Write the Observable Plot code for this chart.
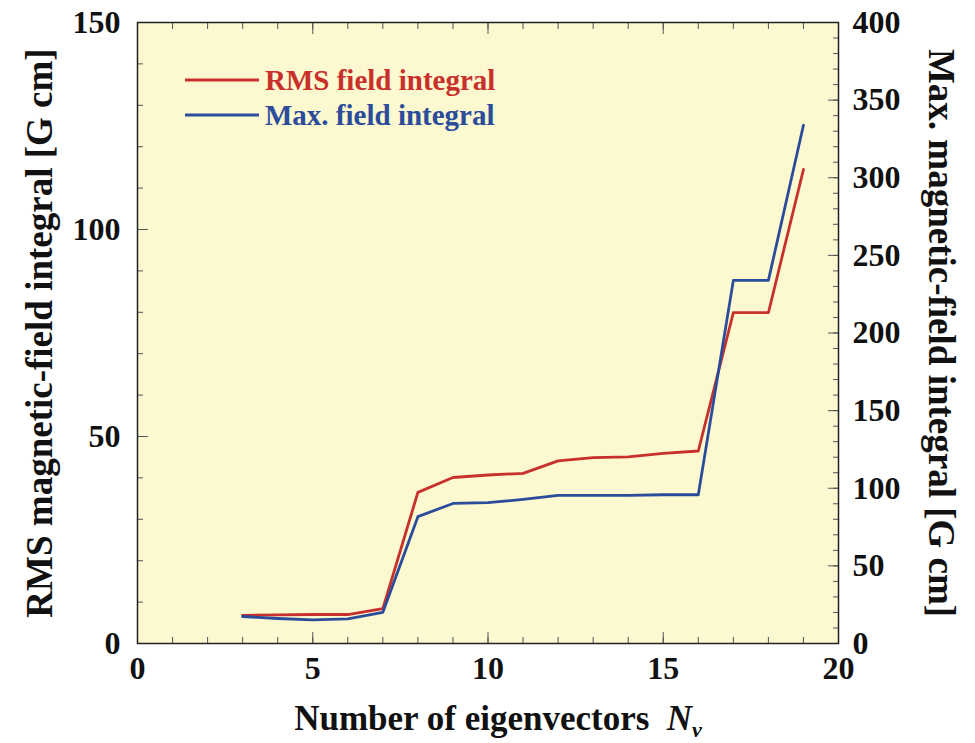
<!DOCTYPE html>
<html><head><meta charset="utf-8">
<script src="https://cdn.jsdelivr.net/npm/d3@7"></script>
<script src="https://cdn.jsdelivr.net/npm/@observablehq/plot@0.6"></script>
<style>
body{margin:0;background:#fff;}
</style></head><body><div id="chart"></div>
<script>
const nv = [3,4,5,6,7,8,9,10,11,12,13,14,15,16,17,18,19];
const rmsField = [6.8,6.9,7.0,7.0,8.4,36.5,40.1,40.7,41.1,44.1,44.9,45.1,45.9,46.5,79.9,79.9,114.5];
const maxField = [17.4,16.1,15.2,15.9,20.1,81.7,90.2,90.7,92.8,95.4,95.4,95.4,95.8,95.8,233.9,233.9,333.8];
const xMajorTicks = [0,5,10,15,20];
const xMinorTicks = d3.range(0,21,1);
const leftMajorTicks = [0,50,100,150];
const leftMinorTicks = d3.range(0,151,10);
const rightMajorTicks = [0,50,100,150,200,250,300,350,400];
const rightMinorTicks = d3.range(0,401,10);
const seriesNames = ["RMS field integral","Max. field integral"];
const seriesColors = ["#c8302c","#2b4c9b"];
const xTitle = "Number of eigenvectors  Nv";
const leftTitle = "RMS magnetic-field integral [G cm]";
const rightTitle = "Max. magnetic-field integral [G cm]";
const leftMax = 150, rightMax = 400;
const toLeft = v => v*leftMax/rightMax;
const toRight = v => v*rightMax/leftMax;

const rows = nv.map((n,i)=>({n, rms: rmsField[i], max: maxField[i]}));
const font = "'Liberation Serif','Times New Roman',serif";
const tickStroke = "#555";

const chart = Plot.plot({
  width:975, height:743, marginLeft:137, marginRight:137, marginTop:22, marginBottom:100,
  style:{fontFamily:font, fontWeight:"bold", fontSize:"32px", color:"#111", background:"#fff", overflow:"visible"},
  x:{domain:[0,20]},
  y:{domain:[0,leftMax]},
  marks:[
    Plot.frame({fill:"#fcf8d0"}),
    // bottom
    Plot.axisX({anchor:"bottom", ticks:xMinorTicks, tickSize:-6, tickFormat:()=>"", label:null, stroke:tickStroke}),
    Plot.axisX({anchor:"bottom", ticks:xMajorTicks, tickSize:-11, tickPadding:24, label:null, stroke:tickStroke, fill:"#111"}),
    // top
    Plot.axisX({anchor:"top", ticks:xMinorTicks, tickSize:-6, tickFormat:()=>"", label:null, stroke:tickStroke}),
    Plot.axisX({anchor:"top", ticks:xMajorTicks, tickSize:-11, tickFormat:()=>"", label:null, stroke:tickStroke}),
    // left
    Plot.axisY({anchor:"left", ticks:leftMinorTicks, tickSize:-6, tickFormat:()=>"", label:null, stroke:tickStroke}),
    Plot.axisY({anchor:"left", ticks:leftMajorTicks, tickSize:-11, tickPadding:28, label:null, stroke:tickStroke, fill:"#111"}),
    // right (secondary scale)
    Plot.axisY({anchor:"right", ticks:rightMinorTicks.map(toLeft), tickSize:-6, tickFormat:()=>"", label:null, stroke:tickStroke}),
    Plot.axisY({anchor:"right", ticks:rightMajorTicks.map(toLeft), tickSize:-11, tickPadding:25, tickFormat:d=>String(Math.round(toRight(d))), label:null, stroke:tickStroke, fill:"#111"}),
    Plot.frame({stroke:"#222", strokeWidth:1.5}),
    Plot.line(rows,{x:"n", y:"rms", stroke:seriesColors[0], strokeWidth:2.8}),
    Plot.line(rows,{x:"n", y:d=>toLeft(d.max), stroke:seriesColors[1], strokeWidth:2.8}),
    // titles
    Plot.text([leftTitle],{text:d=>d, frameAnchor:"left", textAnchor:"middle", lineAnchor:"middle", dx:-97, dy:0, rotate:-90, fontSize:37, fill:"#111"}),
    Plot.text([rightTitle],{text:d=>d, frameAnchor:"right", textAnchor:"middle", lineAnchor:"middle", dx:102, dy:0, rotate:90, fontSize:37, fill:"#111"}),
    Plot.text([xTitle],{text:d=>d, frameAnchor:"bottom", textAnchor:"middle", lineAnchor:"middle", dx:10, dy:75, fontSize:35, fill:"#111"})
  ]
});
document.getElementById("chart").appendChild(chart);

// italic N with subscript v in the x title
d3.select(chart).selectAll("text").each(function(){
  if (this.textContent === xTitle) {
    const t = d3.select(this);
    t.text(null);
    t.append("tspan").text("Number of eigenvectors\u00a0\u00a0");
    t.append("tspan").attr("font-style","italic").text("N");
    t.append("tspan").attr("font-style","italic").attr("font-size","22px").attr("dy","7").text("v");
  }
});

// legend
const lg = d3.select(chart).append("g").attr("font-family",font).attr("font-weight","bold").attr("font-size","29px").attr("text-anchor","start");
seriesNames.forEach((name,i)=>{
  const y = 80 + 35*i;
  lg.append("line").attr("x1",185).attr("x2",259).attr("y1",y).attr("y2",y).attr("stroke",seriesColors[i]).attr("stroke-width",2.8);
  lg.append("text").attr("x",265).attr("y",y).attr("dy","0.35em").attr("fill",seriesColors[i]).text(name);
});
</script></body></html>
